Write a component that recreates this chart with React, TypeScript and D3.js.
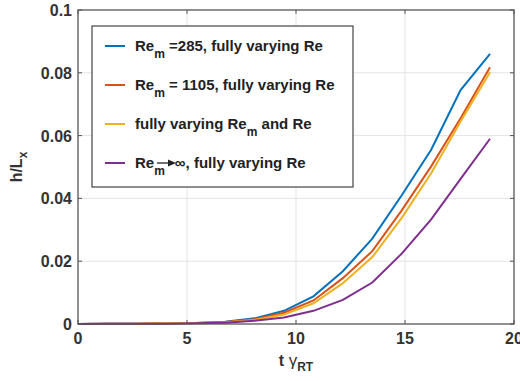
import React from "react";
import * as d3 from "d3";

const times = [0, 1.35, 2.7, 4.05, 5.4, 6.75, 8.1, 9.45, 10.8, 12.15, 13.5, 14.85, 16.2, 17.55, 18.9];
const blueVals = [0, 0.0001, 0.0001, 0.0002, 0.0003, 0.0007, 0.0018, 0.0042, 0.0088, 0.0168, 0.0272, 0.041, 0.0555, 0.0745, 0.086];
const orangeVals = [0, 0.0001, 0.0001, 0.0002, 0.0003, 0.0006, 0.0015, 0.0036, 0.0075, 0.0146, 0.0232, 0.0362, 0.0502, 0.0655, 0.0818];
const yellowVals = [0, 0.0001, 0.0001, 0.0002, 0.0003, 0.0005, 0.0013, 0.003, 0.0066, 0.013, 0.0213, 0.0338, 0.048, 0.0645, 0.0802];
const purpleVals = [0, 0.0001, 0.0001, 0.0001, 0.0002, 0.0004, 0.001, 0.0021, 0.0042, 0.0077, 0.0132, 0.0224, 0.0333, 0.0462, 0.059];

const xTicks = [0, 5, 10, 15, 20];
const yTicks = [0, 0.02, 0.04, 0.06, 0.08, 0.1];
const yTickLabels = ["0", "0.02", "0.04", "0.06", "0.08", "0.1"];

const seriesList = [
  { vals: blueVals, color: "#0072BD", label: ["Re", "m", " =285, fully varying Re"], arrow: false },
  { vals: orangeVals, color: "#D95319", label: ["Re", "m", " = 1105, fully varying Re"], arrow: false },
  { vals: yellowVals, color: "#EDB120", label: ["fully varying Re", "m", " and Re"], arrow: false },
  { vals: purpleVals, color: "#7E2F8E", label: ["Re", "m", "\u221E, fully varying Re"], arrow: true },
];

export default function App() {
  const W = 520, H = 381;
  const L = 78, R = 514, T = 10, B = 324;
  const x = d3.scaleLinear().domain([0, 20]).range([L, R]);
  const y = d3.scaleLinear().domain([0, 0.1]).range([B, T]);
  const line = d3.line<number>().x((_, i) => x(times[i])).y((d) => y(d));
  const font = "'Liberation Sans', Arial, sans-serif";
  const axisColor = "#555";
  const legX = 92, legY = 26, legW = 261, legH = 161;
  const rowYs = [46, 85, 124, 163];

  return (
    <svg width={W} height={H} style={{ position: "absolute", left: 0, top: 0, background: "#fff" }} fontFamily={font}>
      <rect x={0} y={0} width={W} height={H} fill="#fff" />
      {/* grid */}
      {xTicks.slice(1, -1).map((t) => (
        <line key={"gx" + t} x1={x(t)} x2={x(t)} y1={T} y2={B} stroke="#e3e3e3" strokeWidth={1} />
      ))}
      {yTicks.slice(1, -1).map((t) => (
        <line key={"gy" + t} x1={L} x2={R} y1={y(t)} y2={y(t)} stroke="#e3e3e3" strokeWidth={1} />
      ))}
      {/* series */}
      {seriesList.map((s, i) => (
        <path key={i} d={line(s.vals) || ""} fill="none" stroke={s.color} strokeWidth={2} />
      ))}
      {/* axes box */}
      <rect x={L} y={T} width={R - L} height={B - T} fill="none" stroke={axisColor} strokeWidth={1.3} />
      {xTicks.map((t) => (
        <g key={"tx" + t}>
          <line x1={x(t)} x2={x(t)} y1={B} y2={B - 4} stroke={axisColor} />
          <line x1={x(t)} x2={x(t)} y1={T} y2={T + 4} stroke={axisColor} />
          <text x={x(t)} y={B + 20} textAnchor="middle" fontSize={16} fontWeight="bold" fill="#333">{t}</text>
        </g>
      ))}
      {yTicks.map((t, i) => (
        <g key={"ty" + t}>
          <line x1={L} x2={L + 4} y1={y(t)} y2={y(t)} stroke={axisColor} />
          <line x1={R} x2={R - 4} y1={y(t)} y2={y(t)} stroke={axisColor} />
          <text x={L - 6} y={y(t) + 6} textAnchor="end" fontSize={16} fontWeight="bold" fill="#333">{yTickLabels[i]}</text>
        </g>
      ))}
      {/* axis labels */}
      <text transform={`translate(22, ${(T + B) / 2}) rotate(-90)`} textAnchor="middle" fontSize={16} fontWeight="bold" fill="#333">
        h/L<tspan fontSize={12} dy={5}>x</tspan>
      </text>
      <text x={296} y={366} textAnchor="middle" fontSize={16} fontWeight="bold" fill="#333">
        t <tspan fontWeight="normal" fontSize={17}>γ</tspan><tspan fontSize={12} dy={5}>RT</tspan>
      </text>
      {/* legend */}
      <rect x={legX} y={legY} width={legW} height={legH} fill="#fff" stroke="#444" strokeWidth={1.2} />
      {seriesList.map((s, i) => (
        <g key={"lg" + i}>
          <line x1={105} x2={125} y1={rowYs[i]} y2={rowYs[i]} stroke={s.color} strokeWidth={2} />
          {s.arrow ? (
            <g>
              <text x={135} y={rowYs[i] + 5} fontSize={15} fontWeight="bold" fill="#222">
                Re<tspan fontSize={12} dy={7}>m</tspan>
                <tspan dy={-7} dx={10}>{s.label[2]}</tspan>
              </text>
              <line x1={157} x2={169} y1={rowYs[i]} y2={rowYs[i]} stroke="#222" strokeWidth={1.3} />
              <path d={`M176,${rowYs[i]} L168,${rowYs[i] - 3.5} L168,${rowYs[i] + 3.5} Z`} fill="#222" />
            </g>
          ) : (
            <text x={135} y={rowYs[i] + 5} fontSize={15} fontWeight="bold" fill="#222">
              {s.label[0]}
              <tspan fontSize={12} dy={7}>{s.label[1]}</tspan>
              <tspan dy={-7}>{s.label[2]}</tspan>
            </text>
          )}
        </g>
      ))}
    </svg>
  );
}
